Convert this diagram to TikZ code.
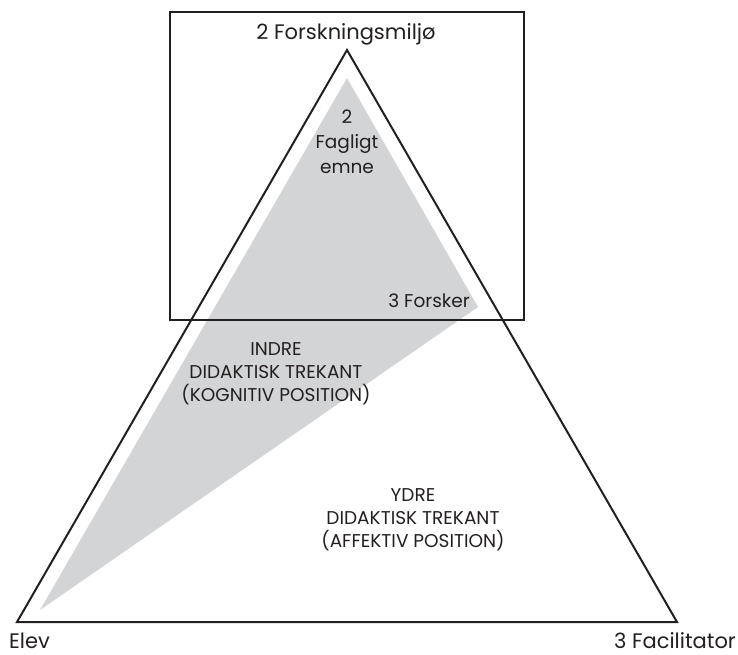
\documentclass[tikz,border=0pt]{standalone}
\usepackage{fontspec}
\setmainfont{Poppins}
\usetikzlibrary{positioning}

\definecolor{inkline}{HTML}{231F20}
\definecolor{cogfill}{HTML}{D3D4D6}

\begin{document}
\begin{tikzpicture}[
    x=1pt, y=-1pt,
    outline/.style={draw=inkline, line width=2pt, line join=miter},
    bigtag/.style={inner sep=0pt, text=inkline, font=\fontsize{21}{24}\selectfont},
    innertag/.style={inner sep=0pt, text=inkline, align=center, font=\fontsize{18.5}{25}\selectfont},
    zonetag/.style={inner sep=0pt, text=inkline, align=center, font=\fontsize{18.5}{23}\selectfont}
]
\useasboundingbox (0,0) rectangle (738,654);
% corners of the two triangles
\coordinate (topO) at (347,50);
\coordinate (leftO) at (17,622);
\coordinate (rightO) at (677,622);
\coordinate (topI) at (347,78);
\coordinate (rightI) at (478,307);
\coordinate (leftI) at (40,610);
% shapes
\fill[cogfill] (topI) -- (rightI) -- (leftI) -- cycle;
\draw[outline] (topO) -- (rightO) -- (leftO) -- cycle;
\draw[outline] (170,12) rectangle (524,320);
% labels
\node[bigtag, anchor=base] (milieu) at (346,39) {2 Forskningsmiljø};
\node[innertag, anchor=base] (subject) at (347,173) {2\\Fagligt\\emne};
\node[innertag, anchor=base east] (researcher) at (470,307) {3 Forsker};
\node[zonetag, anchor=base] (inner) at (276,401) {INDRE\\DIDAKTISK TREKANT\\(KOGNITIV POSITION)};
\node[zonetag, anchor=base] (outer) at (413,547) {YDRE\\DIDAKTISK TREKANT\\(AFFEKTIV POSITION)};
\node[bigtag, anchor=base west] (pupil) at (9,648) {Elev};
\node[bigtag, anchor=base east] (facilitator) at (736,648) {3 Facilitator};
\end{tikzpicture}
\end{document}
